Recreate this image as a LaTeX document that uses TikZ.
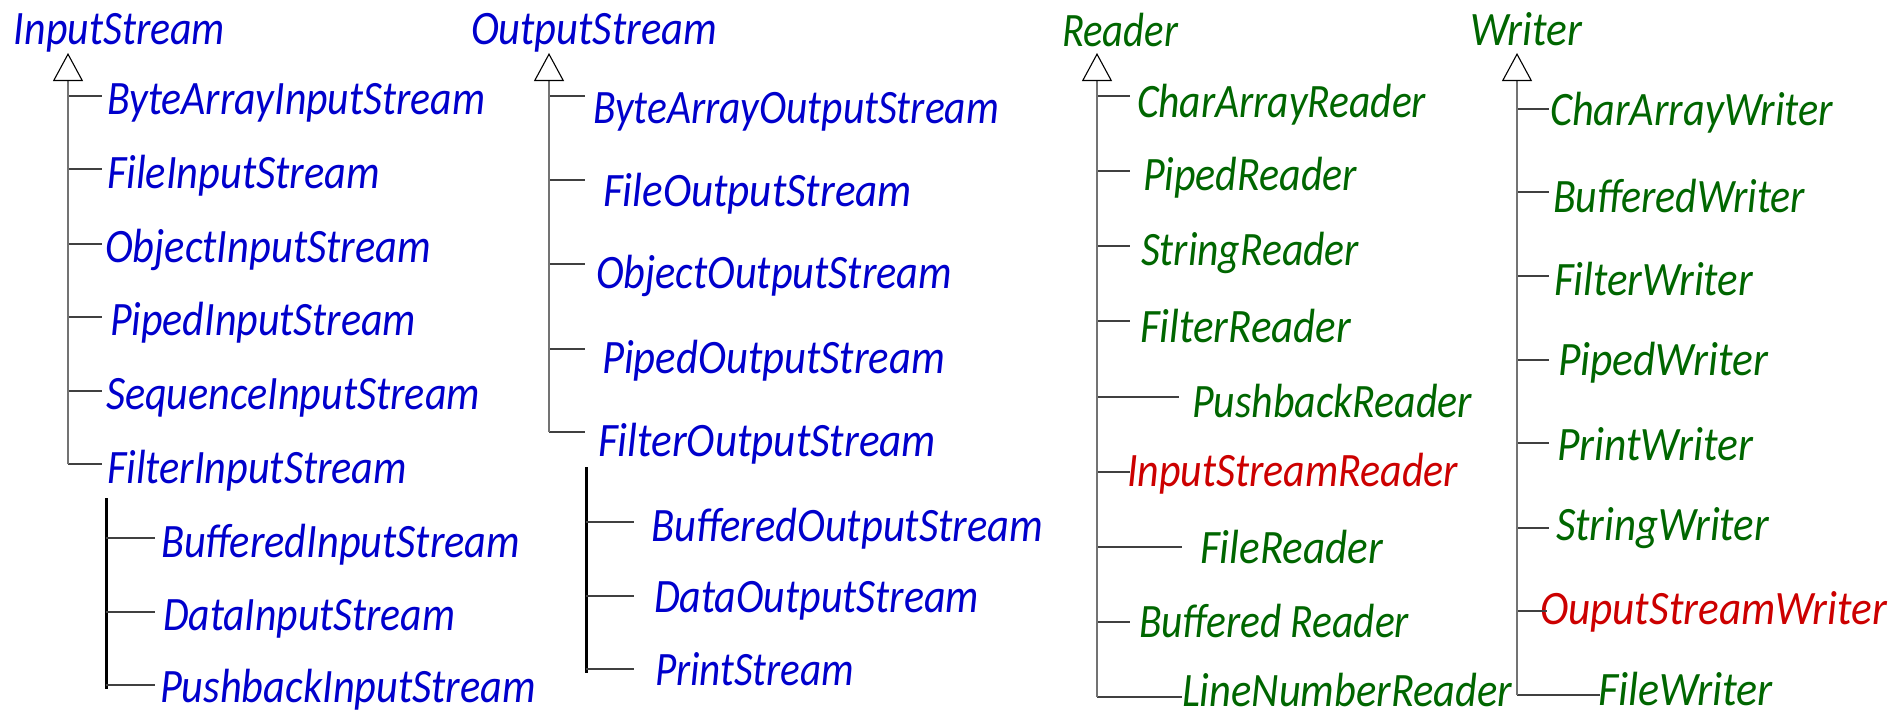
\documentclass[tikz,border=0pt]{standalone}
\usepackage{fontspec}
\usepackage{graphicx}
\setmainfont{Carlito}
\usetikzlibrary{arrows.meta}

\definecolor{jblue}{RGB}{0,0,204}
\definecolor{jgreen}{RGB}{0,102,0}
\definecolor{jred}{RGB}{204,0,0}

% set a class name at a given ink width, keeping its height
\newcommand\fitw[2]{\resizebox{#1pt}{\height}{#2}}

% #1 extra style, #2 name, #3 trunk x, #4 branch y, #5 branch end x,
% #6 text x, #7 baseline, #8 width, #9 text
\newcommand\leaf[9][]{%
  \node[leaf,#1] (#2) at (#6,#7) {\fitw{#8}{#9}};
  \coordinate (#2-j) at (#3,#4);
  \coordinate (#2-e) at (#5,#4);
  \draw[branch] (#2-j) -- (#2-e);
}

\begin{document}
\begin{tikzpicture}[x=1pt,y=-1pt,
  leaf/.style={anchor=base west,inner sep=0pt,outer sep=0pt,
    font=\fontsize{48}{56}\selectfont\itshape},
  root/.style={leaf},
  special/.style={text=jred},
  branch/.style={draw=black!75,line width=1.3pt},
  trunk/.style={draw=black!55,line width=1.4pt,
    -{Triangle[open,length=28pt,width=30pt,line width=1.1pt,color=black]}},
  subtrunk/.style={draw=black,line width=3pt}]

\useasboundingbox (0,0) rectangle (1892,712);

% ---------------- InputStream ----------------
\begin{scope}[text=jblue]
\node[root] (is) at (14,44) {\fitw{211}{InputStream}};
\coordinate (is-apex) at (68,53);
\leaf{bais}{68}{96}{102}{107}{114}{378}{ByteArrayInputStream}
\leaf{fis}{68}{169}{102}{107}{188}{273}{FileInputStream}
\leaf{ois}{68}{244}{102}{105}{262}{326}{ObjectInputStream}
\leaf{pis}{68}{317}{102}{110}{335}{306}{PipedInputStream}
\leaf{sis}{68}{391}{102}{106}{409}{374}{SequenceInputStream}
\leaf{filis}{68}{464}{102}{107}{483}{300}{FilterInputStream}
\draw[trunk] (filis-j) -- (is-apex);
\coordinate (filis-top) at (106,498);
\coordinate (filis-bot) at (106,689);
\draw[subtrunk] (filis-top) -- (filis-bot);
\leaf{bis}{106}{538}{155}{161}{557}{359}{BufferedInputStream}
\leaf{dis}{106}{612}{155}{163}{630}{292}{DataInputStream}
\leaf{pbis}{106}{685}{155}{160}{702}{376}{PushbackInputStream}
\end{scope}

% ---------------- OutputStream ----------------
\begin{scope}[text=jblue]
\node[root] (os) at (471,44) {\fitw{246}{OutputStream}};
\coordinate (os-apex) at (549,53);
\leaf{baos}{549}{96}{585}{593}{123}{406}{ByteArrayOutputStream}
\leaf{fos}{549}{180}{585}{603}{206}{309}{FileOutputStream}
\leaf{oos}{549}{264}{585}{596}{288}{356}{ObjectOutputStream}
\leaf{pos}{549}{349}{585}{602}{373}{343}{PipedOutputStream}
\leaf{filos}{549}{432}{585}{598}{456}{338}{FilterOutputStream}
\draw[trunk] (filos-j) -- (os-apex);
\coordinate (filos-top) at (586,467);
\coordinate (filos-bot) at (586,673);
\draw[subtrunk] (filos-top) -- (filos-bot);
\leaf{bos}{586}{522}{634}{651}{541}{392}{BufferedOutputStream}
\leaf{dos}{586}{596}{634}{654}{612}{325}{DataOutputStream}
\leaf{ps}{586}{669}{634}{655}{685}{199}{PrintStream}
\end{scope}

% ---------------- Reader ----------------
\begin{scope}[text=jgreen]
\node[root] (rd) at (1062,46) {\fitw{116}{Reader}};
\coordinate (rd-apex) at (1097,53);
\leaf{car}{1097}{96}{1130}{1137}{117}{289}{CharArrayReader}
\leaf{pr}{1097}{171}{1130}{1143}{190}{214}{PipedReader}
\leaf{sr}{1097}{246}{1130}{1141}{265}{218}{StringReader}
\leaf{fr}{1097}{321}{1130}{1140}{342}{211}{FilterReader}
\leaf{pbr}{1097}{397}{1179}{1192}{417}{280}{PushbackReader}
\leaf[special]{isr}{1097}{472}{1130}{1127}{486}{331}{InputStreamReader}
\leaf{flr}{1097}{547}{1182}{1200}{563}{183}{FileReader}
\leaf{br}{1097}{622}{1130}{1139}{637}{270}{Buffered Reader}
\leaf{lnr}{1097}{697}{1182}{1182}{706}{330}{LineNumberReader}
\draw[trunk] (lnr-j) -- (rd-apex);
\end{scope}

% ---------------- Writer ----------------
\begin{scope}[text=jgreen]
\node[root] (wr) at (1470,45) {\fitw{112}{Writer}};
\coordinate (wr-apex) at (1517,53);
\leaf{caw}{1517}{109}{1549}{1550}{125}{283}{CharArrayWriter}
\leaf{bw}{1517}{192}{1549}{1553}{212}{252}{BufferedWriter}
\leaf{fw}{1517}{276}{1549}{1554}{295}{199}{FilterWriter}
\leaf{pw}{1517}{360}{1549}{1558}{375}{210}{PipedWriter}
\leaf{prw}{1517}{443}{1549}{1557}{460}{196}{PrintWriter}
\leaf{sw}{1517}{528}{1549}{1556}{540}{213}{StringWriter}
\leaf[special]{osw}{1517}{611}{1547}{1540}{624}{347}{OuputStreamWriter}
\leaf{flw}{1517}{695}{1600}{1598}{705}{175}{FileWriter}
\draw[trunk] (flw-j) -- (wr-apex);
\end{scope}

\end{tikzpicture}
\end{document}
